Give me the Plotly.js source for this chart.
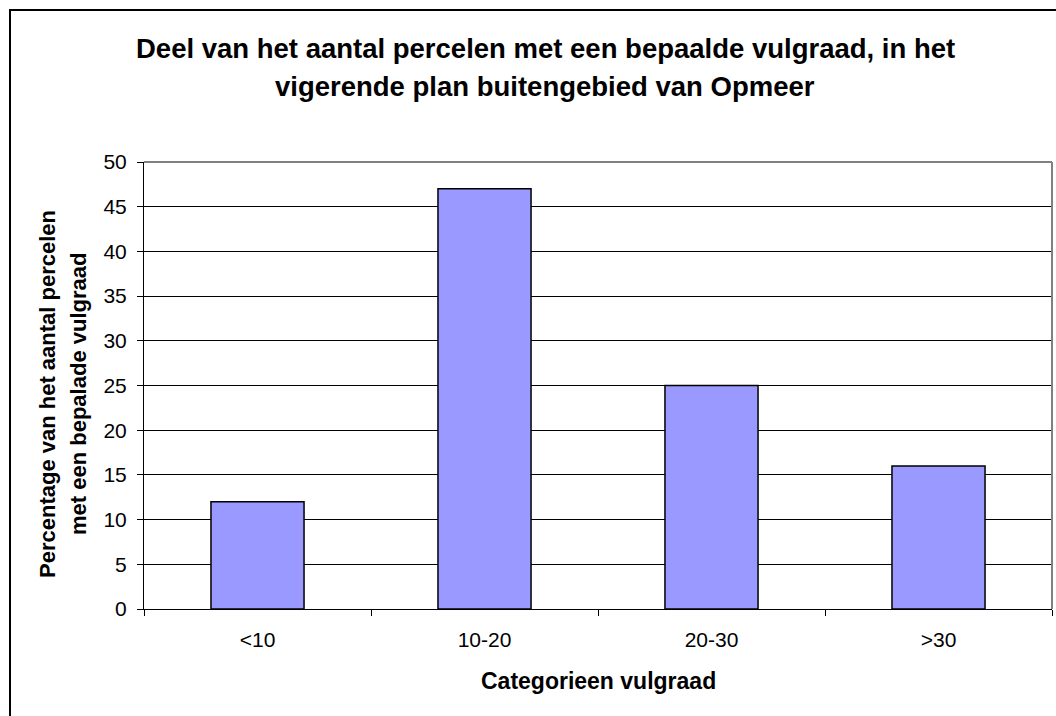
<!DOCTYPE html>
<html>
<head>
<meta charset="utf-8">
<script src="https://cdn.plot.ly/plotly-3.0.1.min.js"></script>
<style>html,body{margin:0;padding:0;background:#fff;}#chart{width:1056px;height:716px;}</style>
</head>
<body>
<div id="chart"></div>
<script>
const categories = ["<10", "10-20", "20-30", ">30"];
const values = [12, 47, 25, 16];
const yTicks = [0, 5, 10, 15, 20, 25, 30, 35, 40, 45, 50];
const titleLines = ["Deel van het aantal percelen met een bepaalde vulgraad, in het", "vigerende plan buitengebied van Opmeer"];
const yTitleLines = ["Percentage van het aantal percelen", "met een bepalade vulgraad"];
const xTitle = "Categorieen vulgraad";

const W = 1056, H = 716;
const L = 144, R = 4, T = 162, B = 107;
const pw = W - L - R, ph = H - T - B;
const px = x => (x - L) / pw;
const py = y => (H - B - y) / ph;

const font = "Liberation Sans, Arial, sans-serif";

const trace = {
  type: "bar",
  x: categories,
  y: values,
  width: 0.41,
  marker: { color: "#9999FF", line: { color: "#000000", width: 1.5 } },
  hoverinfo: "x+y"
};

const layout = {
  width: W, height: H,
  margin: { l: L, r: R, t: T, b: B, pad: 0 },
  paper_bgcolor: "#ffffff",
  plot_bgcolor: "#ffffff",
  showlegend: false,
  font: { family: font, size: 21, color: "#000" },
  xaxis: {
    type: "category",
    tickson: "boundaries",
    ticks: "outside", ticklen: 6, tickcolor: "#000", tickwidth: 1,
    ticklabelstandoff: 12,
    showline: true, linecolor: "#000", linewidth: 1,
    showgrid: false, zeroline: false,
    tickfont: { family: font, size: 21, color: "#000" },
    fixedrange: true
  },
  yaxis: {
    range: [0, 50],
    tickvals: yTicks,
    ticktext: yTicks.map(String),
    ticks: "outside", ticklen: 6, tickcolor: "#000", tickwidth: 1,
    ticklabelstandoff: 6,
    showline: true, linecolor: "#000", linewidth: 1,
    showgrid: true, gridcolor: "#000", gridwidth: 1,
    zeroline: false,
    tickfont: { family: font, size: 21, color: "#000" },
    fixedrange: true
  },
  shapes: [
    { type: "line", xref: "paper", yref: "paper", x0: 0, x1: 1, y0: 1, y1: 1, line: { color: "#808080", width: 2 } },
    { type: "line", xref: "paper", yref: "paper", x0: 1, x1: 1, y0: 0, y1: 1, line: { color: "#808080", width: 2 } },
    { type: "rect", xref: "paper", yref: "paper", x0: px(10), x1: px(1070), y0: py(730), y1: py(10), line: { color: "#000", width: 2 } }
  ],
  annotations: [
    { text: "<b>" + titleLines[0] + "</b>", xref: "paper", yref: "paper", x: px(545), y: py(49), xanchor: "center", yanchor: "middle", showarrow: false, font: { family: font, size: 27.5, color: "#000" } },
    { text: "<b>" + titleLines[1] + "</b>", xref: "paper", yref: "paper", x: px(545), y: py(87), xanchor: "center", yanchor: "middle", showarrow: false, font: { family: font, size: 27.5, color: "#000" } },
    { text: "<b>" + yTitleLines[0] + "</b>", xref: "paper", yref: "paper", x: px(47), y: py(394), xanchor: "center", yanchor: "middle", textangle: -90, showarrow: false, font: { family: font, size: 22, color: "#000" } },
    { text: "<b>" + yTitleLines[1] + "</b>", xref: "paper", yref: "paper", x: px(78), y: py(394), xanchor: "center", yanchor: "middle", textangle: -90, showarrow: false, font: { family: font, size: 22, color: "#000" } },
    { text: "<b>" + xTitle + "</b>", xref: "paper", yref: "paper", x: px(598), y: py(681), xanchor: "center", yanchor: "middle", showarrow: false, font: { family: font, size: 23, color: "#000" } }
  ]
};

Plotly.newPlot("chart", [trace], layout, { displayModeBar: false, staticPlot: true });
</script>
</body>
</html>
